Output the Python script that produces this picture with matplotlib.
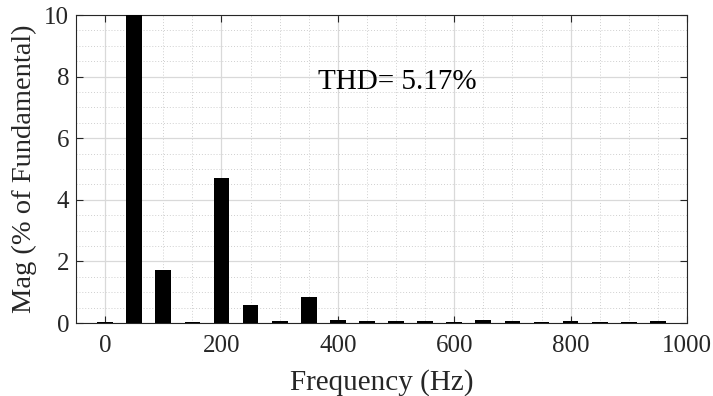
import matplotlib
matplotlib.use("Agg")
import matplotlib.pyplot as plt
from matplotlib.ticker import MultipleLocator

# harmonic spectrum, % of fundamental (fundamental clipped at 10)
freqs = [0, 50, 100, 150, 200, 250, 300, 350, 400, 450,
         500, 550, 600, 650, 700, 750, 800, 850, 900, 950]
mags = [0.02, 100.0, 1.73, 0.04, 4.72, 0.58, 0.07, 0.83, 0.10, 0.06,
        0.07, 0.07, 0.03, 0.09, 0.05, 0.04, 0.07, 0.03, 0.04, 0.06]
thd_label = "THD= 5.17%"

plt.rcParams["font.family"] = ["Liberation Serif", "DejaVu Serif"]

fig = plt.figure(figsize=(7.13, 3.96), dpi=100)
ax = fig.add_axes([76 / 713, 1 - 323 / 396, 611 / 713, 308 / 396])

ax.bar(freqs, mags, width=27, color="black", zorder=3)

ax.set_xlim(-50, 1000)
ax.set_ylim(0, 10)
ax.xaxis.set_major_locator(MultipleLocator(200))
ax.xaxis.set_minor_locator(MultipleLocator(50))
ax.yaxis.set_major_locator(MultipleLocator(2))
ax.yaxis.set_minor_locator(MultipleLocator(0.5))

ax.grid(which="major", color="#d9d9d9", linewidth=0.9, zorder=0)
ax.grid(which="minor", color="#cfcfcf", linestyle=(0, (1, 2)), linewidth=0.7, zorder=0)

ax.tick_params(which="major", direction="in", top=True, right=True,
               length=5, width=0.8, labelsize=18, colors="#262626")
ax.tick_params(axis="x", which="major", pad=9)
ax.tick_params(axis="y", which="major", pad=5)
ax.tick_params(which="minor", length=0)
for s in ax.spines.values():
    s.set_color("#262626")
    s.set_linewidth(0.8)

ax.set_xlabel("Frequency (Hz)", fontsize=21, color="#262626", labelpad=8)
ax.set_ylabel("Mag (% of Fundamental)", fontsize=20.5, color="#262626", labelpad=5)

ax.text(366, 7.82, thd_label, fontsize=21, va="center", ha="left", color="black")

fig.savefig("out.png", dpi=100)
